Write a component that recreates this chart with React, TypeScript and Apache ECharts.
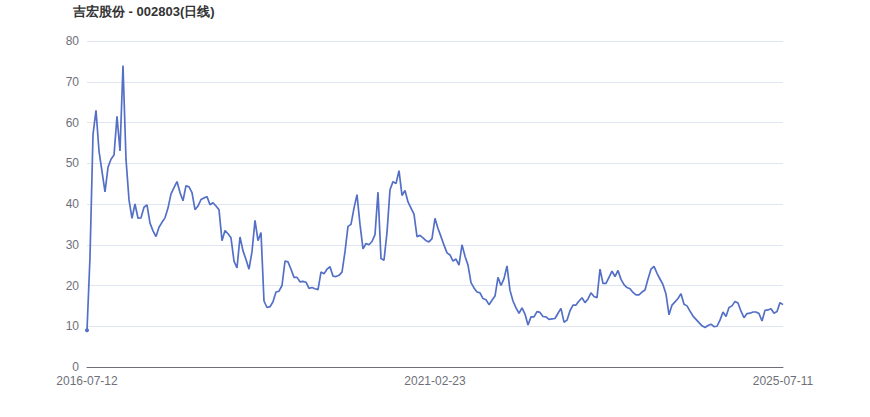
import React, { useEffect, useRef } from "react";
import * as echarts from "echarts";

const TITLE = "吉宏股份 - 002803(日线)";
const START_DATE = "2016-07-12";
const MID_DATE = "2021-02-23";
const END_DATE = "2025-07-11";
const Y_TICKS = [0, 10, 20, 30, 40, 50, 60, 70, 80];

const closeValues = [
  9, 27, 57, 63, 53, 48, 43, 49, 51, 52,
  61.5, 53, 74, 51, 41, 36.5, 40, 36.5, 36.6, 39.2,
  39.8, 35.3, 33.4, 32, 34.3, 35.5, 36.6, 39, 42.5, 44,
  45.5, 42.8, 40.8, 44.5, 44.2, 42.8, 38.6, 39.5, 41.1, 41.5,
  41.8, 39.8, 40.3, 39.5, 38.6, 31, 33.5, 32.7, 31.7, 26,
  24.3, 31.9, 28.5, 26.4, 24, 28.3, 36, 31, 33, 16.2,
  14.6, 14.8, 16, 18.4, 18.6, 20, 26, 25.8, 24, 22,
  22, 20.9, 21, 20.8, 19.3, 19.5, 19.2, 19, 23.3, 22.9,
  24, 24.6, 22.3, 22.2, 22.5, 23.3, 28.3, 34.5, 35, 39,
  42.3, 35, 29, 30.3, 30, 30.8, 32.5, 42.9, 26.6, 26.2,
  33, 43.5, 45.5, 45, 48.2, 42.1, 43.3, 40.5, 39, 37.5,
  32, 32.3, 31.7, 31, 30.7, 31.5, 36.5, 34, 32, 29.9,
  28, 27.5, 26, 26.5, 25, 30, 27.2, 25, 20.7, 19.4,
  18.4, 18.2, 16.8, 16.5, 15.3, 16.4, 17.4, 22, 20, 21.7,
  24.8, 18.8, 16.2, 14.5, 13.2, 14.5, 13, 10.3, 12.3, 12.3,
  13.6, 13.4, 12.4, 12.3, 11.7, 11.8, 11.9, 13.2, 14.4, 11,
  11.5, 13.8, 15.2, 15.2, 16.2, 17, 15.8, 16.7, 18.2, 17.3,
  17, 24, 20.5, 20.5, 22, 23.5, 22.2, 23.7, 21.5, 20.2,
  19.5, 19.2, 18.3, 17.7, 17.7, 18.4, 18.9, 21.6, 24, 24.7,
  23, 21.6, 20.2, 17.9, 12.8, 15.2, 16, 16.8, 18, 15.4,
  15, 13.7, 12.5, 11.7, 10.9, 10.1, 9.7, 10.2, 10.5, 9.9,
  10, 11.5, 13.5, 12.4, 14.6, 15, 16.1, 15.7, 13.7, 12.1,
  13.1, 13.2, 13.5, 13.5, 13.1, 11.3, 13.9, 14, 14.3, 13.2,
  13.6, 15.8, 15.3,
];

function fmt(t: number): string {
  const d = new Date(t);
  const y = d.getUTCFullYear();
  const m = String(d.getUTCMonth() + 1).padStart(2, "0");
  const dd = String(d.getUTCDate()).padStart(2, "0");
  return `${y}-${m}-${dd}`;
}

function buildDates(n: number): string[] {
  const s = Date.parse(START_DATE + "T00:00:00Z");
  const m = Date.parse(MID_DATE + "T00:00:00Z");
  const e = Date.parse(END_DATE + "T00:00:00Z");
  const mid = Math.floor((n - 1) / 2);
  const out: string[] = [];
  for (let i = 0; i < n; i++) {
    if (i === 0) out.push(START_DATE);
    else if (i === mid) out.push(MID_DATE);
    else if (i === n - 1) out.push(END_DATE);
    else if (i < mid) out.push(fmt(s + ((m - s) * i) / mid));
    else out.push(fmt(m + ((e - m) * (i - mid)) / (n - 1 - mid)));
  }
  return out;
}

const categories = buildDates(closeValues.length);

export default function App() {
  const ref = useRef<HTMLDivElement>(null);
  useEffect(() => {
    if (!ref.current) return;
    const chart = echarts.init(ref.current, undefined, { renderer: "svg" });
    const n = categories.length;
    const mid = Math.floor((n - 1) / 2);
    chart.setOption({
      animation: false,
      textStyle: { fontFamily: "'Liberation Sans', Arial, sans-serif" },
      title: {
        text: TITLE,
        left: 68,
        top: 0,
        textStyle: { fontSize: 13, fontWeight: "bold", color: "#333" },
      },
      grid: { left: 87, right: 87, top: 41, bottom: 50 },
      xAxis: {
        type: "category",
        data: categories,
        boundaryGap: false,
        axisTick: { show: false },
        axisLine: { lineStyle: { color: "#6E7079" } },
        axisLabel: {
          color: "#6E7079",
          fontSize: 12,
          interval: (index: number) => index === 0 || index === mid || index === n - 1,
        },
      },
      yAxis: {
        type: "value",
        min: Y_TICKS[0],
        max: Y_TICKS[Y_TICKS.length - 1],
        interval: 10,
        axisLabel: { color: "#6E7079", fontSize: 12 },
        splitLine: { lineStyle: { color: "#E0E6F1" } },
      },
      series: [
        {
          type: "line",
          data: closeValues,
          symbol: "circle",
          symbolSize: (_v: unknown, p: { dataIndex: number }) => (p.dataIndex === 0 ? 4 : 0),
          lineStyle: { width: 1.7, color: "#5470c6" },
          itemStyle: { color: "#5470c6" },
        },
      ],
    });
    return () => chart.dispose();
  }, []);
  return (
    <div
      ref={ref}
      style={{ position: "absolute", left: 0, top: 0, width: 870, height: 417 }}
    />
  );
}
